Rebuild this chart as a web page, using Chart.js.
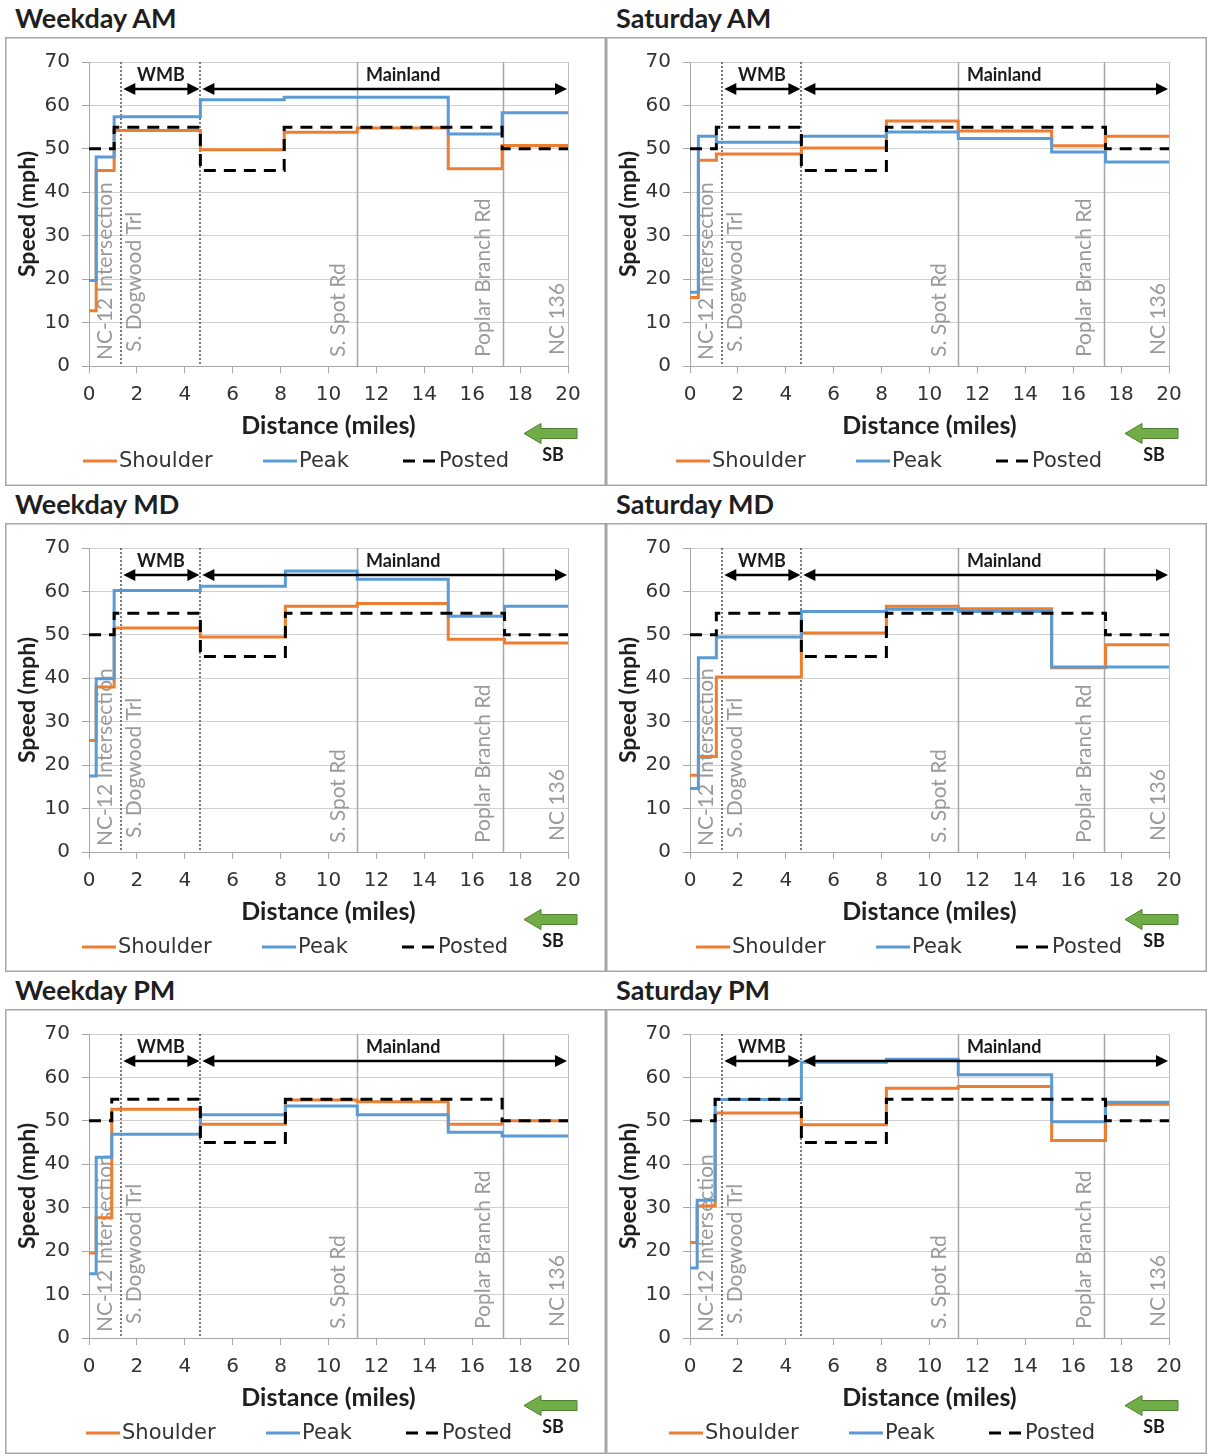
<!DOCTYPE html>
<html>
<head>
<meta charset="utf-8">
<title>Southbound speed profiles</title>
<script src="https://cdn.jsdelivr.net/npm/chart.js@4.4.1/dist/chart.umd.min.js"></script>
<style>
  html, body { margin: 0; padding: 0; background: #ffffff; }
  body { position: relative; width: 1207px; height: 1454px; overflow: hidden; }
  .panel-title {
    position: absolute; font-family: Lato, 'Noto Sans', sans-serif; font-weight: 700;
    font-size: 27px; line-height: 28px; color: #1f1f1f; white-space: nowrap;
  }
  canvas { position: absolute; }
</style>
</head>
<body>
<script>
// ---------- data ----------
const seriesNames = ['Shoulder', 'Peak', 'Posted'];

// segment start miles (last entry closes the final segment)
const weekdayAmMiles   = [0, 0.3, 1.05, 4.65, 8.15, 11.2, 15.0, 17.25, 20];
const weekdayAmShoulder = [12.7, 45.0, 54.2, 49.8, 53.8, 54.8, 45.4, 50.8];
const weekdayAmPeak     = [19.7, 48.1, 57.4, 61.3, 61.9, 61.9, 53.4, 58.3];

const saturdayAmMiles   = [0, 0.35, 1.1, 4.65, 8.2, 11.2, 15.1, 17.35, 20];
const saturdayAmShoulder = [15.8, 47.4, 48.8, 50.2, 56.4, 54.1, 50.7, 52.9];
const saturdayAmPeak     = [17.0, 52.9, 51.5, 52.9, 53.9, 52.4, 49.3, 47.0];

const weekdayMdMiles   = [0, 0.3, 1.05, 4.65, 8.2, 11.2, 15.0, 17.35, 20];
const weekdayMdShoulder = [25.7, 38.0, 51.6, 49.5, 56.6, 57.2, 49.0, 48.1];
const weekdayMdPeak     = [17.5, 39.9, 60.2, 61.2, 64.7, 62.8, 54.3, 56.6];

const saturdayMdMiles   = [0, 0.35, 1.1, 4.65, 8.2, 11.2, 15.1, 17.35, 20];
const saturdayMdShoulder = [17.7, 22.0, 40.3, 50.4, 56.6, 56.0, 42.4, 47.7];
const saturdayMdPeak     = [14.6, 44.7, 49.5, 55.4, 55.9, 55.4, 42.6, 42.6];

const weekdayPmMiles   = [0, 0.3, 0.95, 4.65, 8.2, 11.2, 15.0, 17.25, 20];
const weekdayPmShoulder = [19.6, 27.7, 52.7, 49.2, 54.8, 54.4, 49.2, 50.0];
const weekdayPmPeak     = [14.8, 41.6, 46.9, 51.4, 53.4, 51.4, 47.4, 46.5];

const saturdayPmMiles   = [0, 0.3, 1.05, 4.65, 8.2, 11.2, 15.1, 17.35, 20];
const saturdayPmShoulder = [22.0, 30.4, 51.8, 49.1, 57.5, 57.9, 45.5, 53.8];
const saturdayPmPeak     = [16.1, 31.7, 54.9, 63.5, 64.2, 60.6, 49.8, 54.3];

// posted speed limit on the same segments
const postedLimit = [50, 50, 55, 45, 55, 55, 55, 50];

// cross streets along the corridor
const landmarkNames = ['NC-12 Intersection', 'S. Dogwood Trl', 'S. Spot Rd', 'Poplar Branch Rd', 'NC 136'];
const landmarkMiles = [0, 1.35, 11.2, 17.3, 20];

// bridge / mainland sections
const sectionNames = ['WMB', 'Mainland'];
const sectionStart = [1.35, 4.65];
const sectionEnd   = [4.65, 20];

const distanceMin = 0, distanceMax = 20, distanceStep = 2;
const speedMin = 0, speedMax = 70, speedStep = 10;
const sectionArrowSpeed = 63.8;
const sectionLabelSpeed = 67.0;

const panels = [
  { title: 'Weekday AM',  miles: weekdayAmMiles,   shoulder: weekdayAmShoulder,  peak: weekdayAmPeak },
  { title: 'Saturday AM', miles: saturdayAmMiles,  shoulder: saturdayAmShoulder, peak: saturdayAmPeak },
  { title: 'Weekday MD',  miles: weekdayMdMiles,   shoulder: weekdayMdShoulder,  peak: weekdayMdPeak },
  { title: 'Saturday MD', miles: saturdayMdMiles,  shoulder: saturdayMdShoulder, peak: saturdayMdPeak },
  { title: 'Weekday PM',  miles: weekdayPmMiles,   shoulder: weekdayPmShoulder,  peak: weekdayPmPeak },
  { title: 'Saturday PM', miles: saturdayPmMiles,  shoulder: saturdayPmShoulder, peak: saturdayPmPeak }
];

// ---------- layout & style ----------
const PANEL_W = 601;
const panelLeft = [5, 606];
const panelTop = [37, 523, 1009];
const panelHeight = [449, 449, 445];
const AREA = { left: 84, right: 563, top: 25, bottom: 329 };
const X_AXIS_H = 74;
const legendStart = [78, 70, 77, 90, 81, 63];
const legendItemOffset = [0, 180, 320];
const landmarkLabelDx = [23, 20, -12, -13, -4];
const landmarkLabelLift = [6, 14, 9, 9, 11];
const sectionLabelShift = [0, 19];

const COLORS = { shoulder: '#ED7D31', peak: '#5B9BD5', posted: '#000000' };
const TICK_FONT = { family: "'DejaVu Sans', sans-serif", size: 20 };
const LEGEND_FONT = "21px 'DejaVu Sans', sans-serif";
const BOLD = "Lato, 'Noto Sans', sans-serif";

function stepPoints(miles, values) {
  const pts = values.map((v, i) => ({ x: miles[i], y: v }));
  pts.push({ x: miles[miles.length - 1], y: values[values.length - 1] });
  return pts;
}

function arrowHead(ctx, tipX, y, dir) {
  const len = 12, half = 6;
  ctx.beginPath();
  ctx.moveTo(tipX, y);
  ctx.lineTo(tipX - dir * len, y - half);
  ctx.lineTo(tipX - dir * len, y + half);
  ctx.closePath();
  ctx.fill();
}

const corridorDecor = {
  id: 'corridorDecor',
  beforeDraw(chart) {
    const { ctx, width, height } = chart;
    ctx.save();
    ctx.fillStyle = '#ffffff';
    ctx.fillRect(0, 0, width, height);
    ctx.strokeStyle = '#a6a6a6';
    ctx.lineWidth = 1.5;
    ctx.strokeRect(0.75, 0.75, width - 1.5, height - 1.5);
    ctx.restore();
  },
  beforeDatasetsDraw(chart) {
    const { ctx, chartArea: a, scales: { x } } = chart;
    ctx.save();
    // right edge of the plot frame
    ctx.strokeStyle = '#bfbfbf';
    ctx.lineWidth = 1;
    ctx.beginPath();
    ctx.moveTo(Math.round(a.right) + 0.5, a.top);
    ctx.lineTo(Math.round(a.right) + 0.5, a.bottom);
    ctx.stroke();

    // solid lines at the mainland cross streets
    ctx.strokeStyle = '#a6a6a6';
    ctx.lineWidth = 1.5;
    landmarkMiles.forEach(m => {
      if (m <= distanceMin || m >= distanceMax || sectionStart.includes(m)) return;
      const px = Math.round(x.getPixelForValue(m)) + 0.5;
      ctx.beginPath(); ctx.moveTo(px, a.top); ctx.lineTo(px, a.bottom); ctx.stroke();
    });

    // dotted section boundaries
    ctx.strokeStyle = '#7a7a7a';
    ctx.lineWidth = 2;
    ctx.setLineDash([2, 2]);
    sectionStart.forEach(m => {
      const px = Math.round(x.getPixelForValue(m));
      ctx.beginPath(); ctx.moveTo(px, a.top); ctx.lineTo(px, a.bottom); ctx.stroke();
    });
    ctx.setLineDash([]);

    // cross street names
    ctx.fillStyle = '#9a9a9a';
    ctx.font = "21px Lato, 'Noto Sans', sans-serif";
    ctx.textAlign = 'left';
    ctx.textBaseline = 'alphabetic';
    landmarkNames.forEach((name, i) => {
      const px = x.getPixelForValue(landmarkMiles[i]) + landmarkLabelDx[i];
      ctx.save();
      ctx.translate(px, a.bottom - landmarkLabelLift[i]);
      ctx.rotate(-Math.PI / 2);
      ctx.fillText(name, 0, 0);
      ctx.restore();
    });
    ctx.restore();
  },
  afterDatasetsDraw(chart) {
    const { ctx, scales: { x, y } } = chart;
    ctx.save();
    ctx.strokeStyle = '#000';
    ctx.fillStyle = '#000';
    ctx.lineWidth = 2.6;
    const ay = Math.round(y.getPixelForValue(sectionArrowSpeed));
    const ly = y.getPixelForValue(sectionLabelSpeed);
    ctx.font = `bold 18px ${BOLD}`;
    ctx.textAlign = 'center';
    ctx.textBaseline = 'middle';
    sectionNames.forEach((name, i) => {
      const x1 = x.getPixelForValue(sectionStart[i]) + 2;
      const x2 = x.getPixelForValue(sectionEnd[i]) - 1;
      ctx.beginPath();
      ctx.moveTo(x1 + 8, ay); ctx.lineTo(x2 - 8, ay);
      ctx.stroke();
      arrowHead(ctx, x1, ay, -1);
      arrowHead(ctx, x2, ay, 1);
      const cx = (x.getPixelForValue(sectionStart[i]) + x.getPixelForValue(sectionEnd[i])) / 2 + sectionLabelShift[i];
      ctx.fillStyle = '#1a1a1a';
      ctx.fillText(name, cx, ly);
      ctx.fillStyle = '#000';
    });
    ctx.restore();
  },
  afterDraw(chart) {
    const { ctx } = chart;
    const idx = chart.options.plugins.corridorDecor.panelIndex;
    const ly = 424;
    ctx.save();
    // legend
    ctx.font = LEGEND_FONT;
    ctx.textBaseline = 'middle';
    ctx.textAlign = 'left';
    chart.data.datasets.forEach((ds, i) => {
      const sx = legendStart[idx] + legendItemOffset[i];
      ctx.strokeStyle = ds.borderColor;
      ctx.lineWidth = 3;
      ctx.setLineDash(ds.borderDash || []);
      ctx.beginPath(); ctx.moveTo(sx, ly); ctx.lineTo(sx + 34, ly); ctx.stroke();
      ctx.setLineDash([]);
      ctx.fillStyle = '#333';
      ctx.fillText(ds.label, sx + 36, ly + 1);
    });

    // southbound direction marker
    const tip = 519, neck = 536, tail = 572, cy = 396.5;
    ctx.beginPath();
    ctx.moveTo(tip, cy);
    ctx.lineTo(neck, cy - 10);
    ctx.lineTo(neck, cy - 5);
    ctx.lineTo(tail, cy - 5);
    ctx.lineTo(tail, cy + 5);
    ctx.lineTo(neck, cy + 5);
    ctx.lineTo(neck, cy + 10);
    ctx.closePath();
    ctx.fillStyle = '#70AD47';
    ctx.fill();
    ctx.strokeStyle = '#507E32';
    ctx.lineWidth = 1;
    ctx.stroke();
    ctx.fillStyle = '#1a1a1a';
    ctx.font = `bold 18px ${BOLD}`;
    ctx.textAlign = 'center';
    ctx.fillText('SB', 548, 418);
    ctx.restore();
  }
};

panels.forEach((p, i) => {
  const col = i % 2, row = Math.floor(i / 2);
  const left = panelLeft[col], top = panelTop[row], H = panelHeight[row];

  const title = document.createElement('div');
  title.className = 'panel-title';
  title.textContent = p.title;
  title.style.left = (left + 10) + 'px';
  title.style.top = (top - 33) + 'px';
  document.body.appendChild(title);

  const canvas = document.createElement('canvas');
  canvas.width = PANEL_W;
  canvas.height = H;
  canvas.style.left = left + 'px';
  canvas.style.top = top + 'px';
  document.body.appendChild(canvas);

  const lineBase = { borderWidth: 3, pointRadius: 0, stepped: true, fill: false,
                     borderJoinStyle: 'miter', borderCapStyle: 'butt' };

  new Chart(canvas, {
    type: 'line',
    data: {
      datasets: [
        { ...lineBase, label: seriesNames[0], data: stepPoints(p.miles, p.shoulder), borderColor: COLORS.shoulder, order: 2 },
        { ...lineBase, label: seriesNames[1], data: stepPoints(p.miles, p.peak), borderColor: COLORS.peak, order: 1 },
        { ...lineBase, label: seriesNames[2], data: stepPoints(p.miles, postedLimit), borderColor: COLORS.posted, borderDash: [12, 8], order: 0 }
      ]
    },
    options: {
      responsive: false,
      animation: false,
      events: [],
      layout: { padding: { left: 0, right: PANEL_W - AREA.right, top: AREA.top, bottom: H - AREA.bottom - X_AXIS_H } },
      plugins: {
        legend: { display: false },
        tooltip: { enabled: false },
        corridorDecor: { panelIndex: i }
      },
      scales: {
        x: {
          type: 'linear', min: distanceMin, max: distanceMax,
          afterFit: s => { s.height = X_AXIS_H; },
          ticks: { stepSize: distanceStep, autoSkip: false, maxRotation: 0, padding: 10, color: '#333', font: TICK_FONT },
          grid: { drawOnChartArea: false, tickLength: 7, color: '#a6a6a6' },
          border: { color: '#a6a6a6', width: 1 },
          title: { display: true, text: 'Distance (miles)', color: '#1f1f1f',
                   font: { family: BOLD, weight: 'bold', size: 25, lineHeight: 1.2 }, padding: { top: 0, bottom: -1 } }
        },
        y: {
          min: speedMin, max: speedMax,
          afterFit: s => { s.width = AREA.left; },
          ticks: { stepSize: speedStep, padding: 12, color: '#333', font: TICK_FONT },
          grid: { color: '#d0d0d0', tickColor: '#a6a6a6', tickLength: 7 },
          border: { color: '#a6a6a6', width: 1 },
          title: { display: true, text: 'Speed (mph)', color: '#1f1f1f',
                   font: { family: BOLD, weight: 'bold', size: 23, lineHeight: 1.2 }, padding: { top: 9, bottom: 0 } }
        }
      }
    },
    plugins: [corridorDecor]
  });
});
</script>
</body>
</html>
